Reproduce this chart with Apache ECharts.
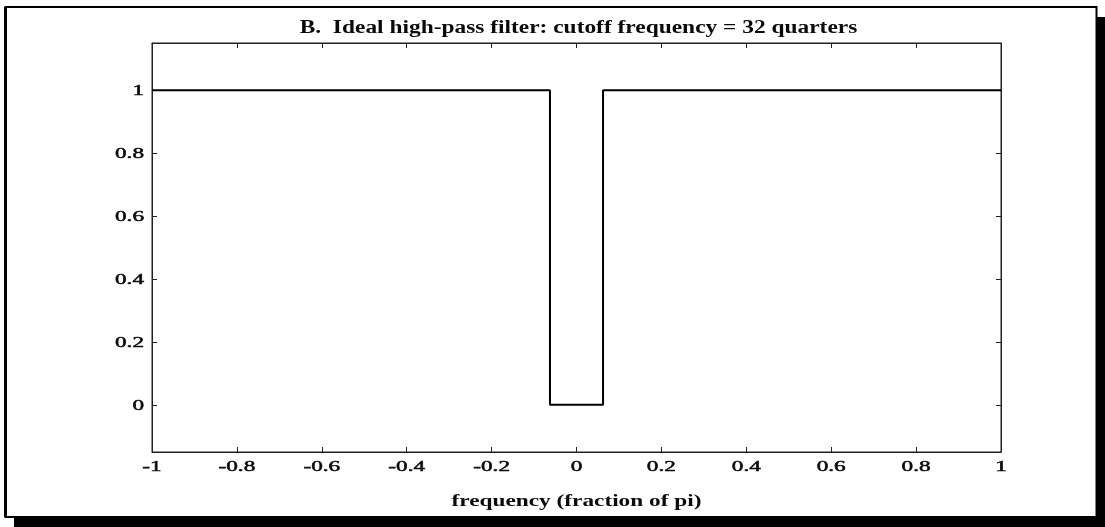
<!DOCTYPE html>
<html>
<head>
<meta charset="utf-8">
<script src="https://cdn.jsdelivr.net/npm/echarts@6/dist/echarts.min.js"></script>
<style>
  html, body { margin: 0; padding: 0; background: #fff; }
  #chart { width: 1105px; height: 527px; }
</style>
</head>
<body>
<div id="chart"></div>
<script>
// Frequency response of an ideal high-pass filter (cutoff = 2/32 of pi)
const freq = [-1, -0.0625, -0.0625, 0.0625, 0.0625, 1];
const gain = [1, 1, 0, 0, 1, 1];

const xTicks = [-1, -0.8, -0.6, -0.4, -0.2, 0, 0.2, 0.4, 0.6, 0.8, 1];
const yTicks = [0, 0.2, 0.4, 0.6, 0.8, 1];

const titleText = 'B.  Ideal high-pass filter: cutoff frequency = 32 quarters';
const xLabelText = 'frequency (fraction of pi)';

const serif = '"Liberation Serif", "DejaVu Serif", serif';

function fmt(v) {
  const r = Math.round(v * 10) / 10;
  return String(r).replace(/^(-?)0\./, '$10.');
}

const tickStyle = { lineStyle: { color: '#222', width: 1 } };
const axisLineStyle = { show: true, onZero: false, lineStyle: { color: '#222', width: 1 } };

const chart = echarts.init(document.getElementById('chart'), null, { renderer: 'canvas' });

chart.setOption({
  animation: false,
  backgroundColor: '#fff',
  grid: {
    left: 152, right: 104, top: 43, bottom: 75,
    show: true, borderColor: '#222', borderWidth: 1, backgroundColor: 'transparent'
  },
  xAxis: [
    {
      type: 'value', min: -1, max: 1, position: 'bottom',
      axisLine: axisLineStyle,
      axisTick: { show: true, inside: true, length: 5, customValues: xTicks, ...tickStyle },
      axisLabel: { show: false },
      splitLine: { show: false }
    },
    {
      type: 'value', min: -1, max: 1, position: 'top',
      axisLine: axisLineStyle,
      axisTick: { show: true, inside: true, length: 5, customValues: xTicks, ...tickStyle },
      axisLabel: { show: false },
      splitLine: { show: false }
    }
  ],
  yAxis: [
    {
      type: 'value', min: -0.15, max: 1.15, position: 'left',
      axisLine: axisLineStyle,
      axisTick: { show: true, inside: true, length: 5, customValues: yTicks, ...tickStyle },
      axisLabel: { show: false },
      splitLine: { show: false }
    },
    {
      type: 'value', min: -0.15, max: 1.15, position: 'right',
      axisLine: axisLineStyle,
      axisTick: { show: true, inside: true, length: 5, customValues: yTicks, ...tickStyle },
      axisLabel: { show: false },
      splitLine: { show: false }
    }
  ],
  series: [
    {
      type: 'line',
      xAxisIndex: 0, yAxisIndex: 0,
      data: freq.map((f, i) => [f, gain[i]]),
      showSymbol: false,
      lineStyle: { color: '#000', width: 2 },
      z: 3
    }
  ]
});

// Wide (horizontally stretched) text, placed from the axis scales
function wideText(x, y, text, opts) {
  return {
    type: 'text', x: x, y: y,
    scaleX: opts.scaleX, scaleY: 1,
    silent: true, z: 10,
    style: {
      x: 0, y: 0, text: text,
      textAlign: opts.align || 'center',
      textVerticalAlign: 'middle',
      fontFamily: serif,
      fontSize: opts.size,
      fontWeight: opts.weight || 'normal',
      fill: '#0a0a0a',
      stroke: opts.stroke ? '#0a0a0a' : null,
      lineWidth: opts.stroke || 0
    }
  };
}

const rect = chart.getModel().getComponent('grid').coordinateSystem.getRect();
const gx0 = chart.convertToPixel({ xAxisIndex: 0 }, -1);
const gx1 = chart.convertToPixel({ xAxisIndex: 0 }, 1);
const gxMid = (gx0 + gx1) / 2;
const plotBottom = rect.y + rect.height;

const texts = [];
xTicks.forEach(v => {
  texts.push(wideText(chart.convertToPixel({ xAxisIndex: 0 }, v), plotBottom + 15, fmt(v),
    { size: 15, scaleX: 1.55, stroke: 0.5 }));
});
yTicks.forEach(v => {
  texts.push(wideText(rect.x - 8, chart.convertToPixel({ yAxisIndex: 0 }, v) + 1, fmt(v),
    { size: 15, scaleX: 1.55, align: 'right', stroke: 0.5 }));
});
texts.push(wideText(gxMid + 2, 28, titleText, { size: 18, scaleX: 1.3, weight: 'bold' }));
texts.push(wideText(gxMid, plotBottom + 50, xLabelText, { size: 17, scaleX: 1.37, weight: 'bold' }));

chart.setOption({
  graphic: [
    // drop shadow of the outer frame
    { type: 'rect', shape: { x: 14, y: 517, width: 1091, height: 10 }, style: { fill: '#000' }, silent: true },
    { type: 'rect', shape: { x: 1097, y: 17, width: 8, height: 510 }, style: { fill: '#000' }, silent: true },
    // outer frame
    { type: 'rect', shape: { x: 5.5, y: 7, width: 1091, height: 510 },
      style: { fill: 'none', stroke: '#000', lineWidth: 2 }, silent: true, z: -1 },
    { type: 'rect', shape: { x: 4, y: 7, width: 3, height: 510 }, style: { fill: '#000' }, silent: true }
  ].concat(texts)
});
</script>
</body>
</html>
